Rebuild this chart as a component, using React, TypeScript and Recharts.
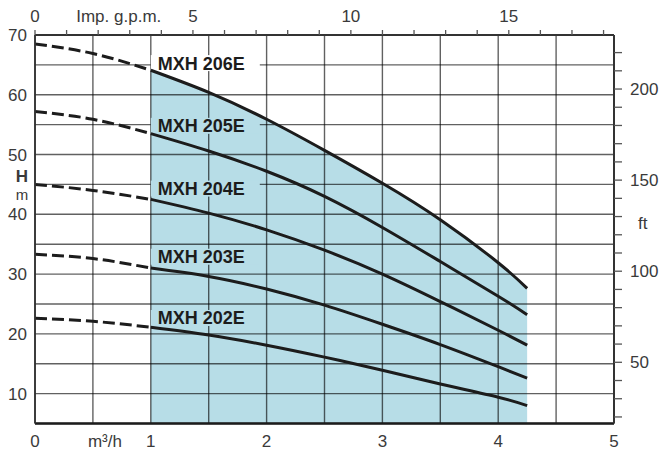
import React from 'react';
import {
  ComposedChart,
  Area,
  Line,
  XAxis,
  YAxis,
  CartesianGrid,
  ReferenceDot,
} from 'recharts';

// flow rate in m3/h
const flow = [0, 0.5, 1, 1.5, 2, 2.5, 3, 3.5, 4, 4.25];

// head in m
const head206 = [68.5, 66.9, 64.1, 60.4, 55.9, 50.7, 45.2, 39.1, 31.9, 27.6];
const head205 = [57.2, 55.9, 53.5, 50.6, 47.2, 43.0, 37.8, 32.1, 26.3, 23.2];
const head204 = [45.0, 44.0, 42.5, 40.2, 37.4, 34.0, 30.0, 25.4, 20.6, 18.1];
const head203 = [33.3, 32.6, 31.0, 29.6, 27.5, 24.8, 21.6, 18.2, 14.5, 12.6];
const head202 = [22.6, 22.1, 21.1, 19.8, 18.1, 16.1, 13.9, 11.6, 9.4, 8.0];

const models = ['MXH 206E', 'MXH 205E', 'MXH 204E', 'MXH 203E', 'MXH 202E'];
const labelHead = [65.3, 54.8, 44.3, 32.9, 22.65];

const flowTicks = [0, 0.5, 1, 1.5, 2, 2.5, 3, 3.5, 4, 4.5, 5];
const headTicks = [5, 10, 15, 20, 25, 30, 35, 40, 45, 50, 55, 60, 65, 70];
const gpmTicks = [0, 1, 2, 3, 4, 5, 6, 7, 8, 9, 10, 11, 12, 13, 14, 15, 16, 17, 18];
const ftTicks = [20, 30, 40, 50, 60, 70, 80, 90, 100, 110, 120, 130, 140, 150, 160, 170, 180, 190, 200, 210, 220];

// unit conversions
const GPM_PER_M3H = 3.66614;
const FT_PER_M = 3.28084;

const FONT = '"Liberation Sans", Arial, sans-serif';
const TEXT = '#3a3a3a';
const INK = '#1c1c1c';
const SHADE = '#b7dde7';

const series = [head206, head205, head204, head203, head202];

const rows = flow.map((q, i) => {
  const row: Record<string, number | undefined> = { q, gpm: q * GPM_PER_M3H };
  series.forEach((vals, s) => {
    row[`d${s}`] = q <= 1 ? vals[i] : undefined;
    row[`s${s}`] = q >= 1 ? vals[i] : undefined;
  });
  return row;
});

const BottomTick = (props: any) => {
  const { x, y, payload } = props;
  const v = payload.value;
  let text = '';
  let dx = 0;
  if (Number.isInteger(v)) text = String(v);
  else if (v === 0.5) {
    text = 'm³/h';
    dx = 12;
  }
  if (!text) return <g />;
  return (
    <text x={x + dx} y={y} dy="0.71em" textAnchor="middle" fill={TEXT} fontSize={17} fontFamily={FONT}>
      {text}
    </text>
  );
};

const TopTick = (props: any) => {
  const { x, y, payload } = props;
  const v = payload.value;
  if (v % 5 === 0) {
    return (
      <text x={x} y={y} textAnchor="middle" fill={TEXT} fontSize={17} fontFamily={FONT}>
        {v}
      </text>
    );
  }
  if (v === 3) {
    return (
      <text x={x - 11} y={y} textAnchor="middle" fill={TEXT} fontSize={17} fontFamily={FONT}>
        Imp. g.p.m.
      </text>
    );
  }
  return <g />;
};

const LeftTick = (props: any) => {
  const { x, y, payload } = props;
  const v = payload.value;
  if (v === 45) {
    // axis title, stacked "H" over "m"
    return (
      <g fill={TEXT} fontFamily={FONT} textAnchor="middle">
        <text x={x - 5} y={y - 2} fontSize={17} fontWeight="bold">H</text>
        <text x={x - 5} y={y + 15.3} fontSize={15}>m</text>
      </g>
    );
  }
  if (v % 10 !== 0) return <g />;
  return (
    <text x={x} y={y} dy="0.355em" textAnchor="end" fill={TEXT} fontSize={17} fontFamily={FONT}>
      {v}
    </text>
  );
};

const RightTick = (props: any) => {
  const { x, y, payload } = props;
  const v = payload.value;
  let text = '';
  let dx = 0;
  let dy = 0;
  if (v % 50 === 0) text = String(v);
  else if (v === 130) {
    text = 'ft';
    dx = 8;
    dy = 6;
  }
  if (!text) return <g />;
  return (
    <text x={x + dx} y={y + dy} dy="0.355em" textAnchor="start" fill={TEXT} fontSize={17} fontFamily={FONT}>
      {text}
    </text>
  );
};

const makeLabel = (name: string, bg: string) => (props: any) => {
  const { cx, cy } = props;
  return (
    <g>
      <rect x={cx} y={cy - 8} width={109} height={16} fill={bg} />
      <text x={cx + 7} y={cy} dy="0.36em" fill={INK} fontSize={18} fontWeight="bold" fontFamily={FONT}>
        {name}
      </text>
    </g>
  );
};

export default function App() {
  return (
    <div style={{ position: 'absolute', left: 0, top: 0, width: 660, height: 452, background: '#fff' }}>
      <ComposedChart
        width={660}
        height={452}
        data={rows}
        margin={{ top: 4, right: 4, bottom: 4.5, left: 5 }}
      >
        <XAxis
          xAxisId="m3"
          dataKey="q"
          type="number"
          domain={[0, 5]}
          ticks={flowTicks}
          allowDataOverflow
          height={24}
          tickLine={false}
          tickSize={6}
          tickMargin={5.5}
          axisLine={{ stroke: INK, strokeWidth: 2.6 }}
          tick={BottomTick}
          interval={0}
        />
        <XAxis
          xAxisId="gpm"
          dataKey="gpm"
          orientation="top"
          type="number"
          domain={[0, 5 * GPM_PER_M3H]}
          ticks={gpmTicks}
          allowDataOverflow
          height={31}
          tickSize={5}
          tickMargin={8}
          axisLine={{ stroke: '#333', strokeWidth: 2 }}
          tickLine={{ stroke: '#555', strokeWidth: 1.3 }}
          tick={TopTick}
          interval={0}
        />
        <YAxis
          yAxisId="m"
          type="number"
          domain={[5, 70]}
          ticks={headTicks}
          allowDataOverflow
          width={30}
          tickLine={false}
          tickSize={6}
          tickMargin={2}
          axisLine={{ stroke: '#333', strokeWidth: 1.8 }}
          tick={LeftTick}
          interval={0}
        />
        <YAxis
          yAxisId="ft"
          orientation="right"
          type="number"
          domain={[5 * FT_PER_M, 70 * FT_PER_M]}
          ticks={ftTicks}
          allowDataOverflow
          width={42}
          tickSize={8}
          tickMargin={8}
          axisLine={{ stroke: '#333', strokeWidth: 2 }}
          tickLine={{ stroke: '#555', strokeWidth: 1.3 }}
          tick={RightTick}
          interval={0}
        />

        <Area
          xAxisId="m3"
          yAxisId="m"
          dataKey="s0"
          type="natural"
          baseValue="dataMin"
          fill={SHADE}
          fillOpacity={1}
          stroke="none"
          isAnimationActive={false}
          zIndex={100}
        />

        <CartesianGrid
          xAxisId="m3"
          yAxisId="m"
          stroke="#000"
          strokeOpacity={0.62}
          strokeWidth={1.4}
          zIndex={150}
        />

        {models.map((name, i) => (
          <ReferenceDot
            key={name}
            xAxisId="m3"
            yAxisId="m"
            x={1}
            y={labelHead[i]}
            r={0}
            zIndex={200}
            shape={makeLabel(name, i === 0 ? '#fff' : SHADE)}
          />
        ))}

        {series.map((_, i) => (
          <Line
            key={`d${i}`}
            xAxisId="m3"
            yAxisId="m"
            dataKey={`d${i}`}
            type="natural"
            stroke={INK}
            strokeWidth={3}
            strokeDasharray="12 5"
            dot={false}
            activeDot={false}
            isAnimationActive={false}
          />
        ))}
        {series.map((_, i) => (
          <Line
            key={`s${i}`}
            xAxisId="m3"
            yAxisId="m"
            dataKey={`s${i}`}
            type="natural"
            stroke={INK}
            strokeWidth={3}
            dot={false}
            activeDot={false}
            isAnimationActive={false}
          />
        ))}
      </ComposedChart>
    </div>
  );
}
